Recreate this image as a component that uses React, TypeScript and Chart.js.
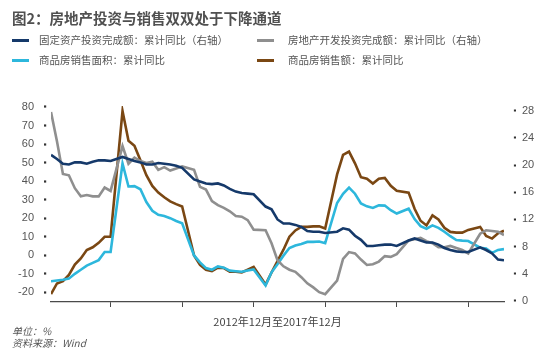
import React, { useEffect, useRef } from "react";
import { Chart, registerables } from "chart.js";

Chart.register(...registerables);

// Months (cumulative data, January merged into Feb)
const months = [
  "2012-02","2012-03","2012-04","2012-05","2012-06","2012-07","2012-08","2012-09","2012-10","2012-11","2012-12",
  "2013-02","2013-03","2013-04","2013-05","2013-06","2013-07","2013-08","2013-09","2013-10","2013-11","2013-12",
  "2014-02","2014-03","2014-04","2014-05","2014-06","2014-07","2014-08","2014-09","2014-10","2014-11","2014-12",
  "2015-02","2015-03","2015-04","2015-05","2015-06","2015-07","2015-08","2015-09","2015-10","2015-11","2015-12",
  "2016-02","2016-03","2016-04","2016-05","2016-06","2016-07","2016-08","2016-09","2016-10","2016-11","2016-12",
  "2017-02","2017-03","2017-04","2017-05","2017-06","2017-07","2017-08","2017-09","2017-10","2017-11","2017-12",
  "2018-02","2018-03","2018-04","2018-05","2018-06",
];

// 固定资产投资完成额：累计同比（右轴）
const fixedAssetInvestment = [
  21.5, 20.9, 20.2, 20.1, 20.4, 20.4, 20.2, 20.5, 20.7, 20.7, 20.6,
  21.2, 20.9, 20.6, 20.4, 20.1, 20.1, 20.3, 20.2, 20.1, 19.9, 19.6,
  17.9, 17.6, 17.3, 17.2, 17.3, 17.0, 16.5, 16.1, 15.9, 15.8, 15.7,
  13.9, 13.5, 12.0, 11.4, 11.4, 11.2, 10.9, 10.3, 10.2, 10.2, 10.0,
  10.2, 10.7, 10.5, 9.6, 9.0, 8.1, 8.1, 8.2, 8.3, 8.3, 8.1,
  8.9, 9.2, 8.9, 8.6, 8.6, 8.3, 7.8, 7.5, 7.3, 7.2, 7.2,
  7.9, 7.5, 7.0, 6.1, 6.0,
];

// 房地产开发投资完成额：累计同比（右轴）
const realEstateInvestment = [
  27.8, 23.5, 18.7, 18.5, 16.6, 15.4, 15.6, 15.4, 15.4, 16.7, 16.2,
  22.8, 20.2, 21.1, 20.6, 20.3, 20.5, 19.3, 19.7, 19.2, 19.5, 19.8,
  19.3, 16.8, 16.4, 14.7, 14.1, 13.7, 13.2, 12.5, 12.4, 11.9, 10.5,
  10.4, 8.5, 6.0, 5.1, 4.6, 4.3, 3.5, 2.6, 2.0, 1.3, 1.0,
  3.0, 6.2, 7.2, 7.0, 6.1, 5.3, 5.4, 5.8, 6.6, 6.5, 6.9,
  8.9, 9.1, 9.3, 8.8, 8.5, 7.9, 7.9, 8.1, 7.8, 7.5, 7.0,
  9.9, 10.4, 10.3, 10.2, 9.7,
];

// 商品房销售面积：累计同比
const salesArea = [
  -14.0, -13.6, -13.2, -12.6, -10.0, -7.8, -5.6, -4.1, -2.6, 1.8, 1.8,
  49.5, 37.1, 37.3, 35.6, 28.7, 24.0, 21.8, 21.2, 20.0, 18.5, 17.3,
  -0.1, -3.8, -6.9, -7.8, -6.0, -6.7, -8.3, -8.6, -8.9, -8.2, -7.6,
  -16.3, -9.2, -4.8, -0.2, 3.9, 5.3, 6.1, 7.2, 7.2, 7.4, 6.5,
  28.2, 33.1, 36.5, 33.2, 27.9, 26.4, 25.5, 26.9, 26.8, 24.3, 22.5,
  25.1, 19.5, 15.7, 14.3, 16.1, 14.8, 12.7, 10.3, 8.2, 7.9, 7.7,
  4.1, 3.6, 1.3, 2.9, 3.3,
];

// 商品房销售额：累计同比
const salesAmount = [
  -20.9, -15.2, -14.0, -10.6, -5.0, -1.7, 2.8, 4.3, 6.7, 10.0, 10.0,
  77.8, 61.8, 59.1, 51.3, 43.2, 37.4, 33.8, 31.3, 29.1, 27.6, 26.3,
  -0.1, -5.2, -7.8, -8.5, -6.7, -6.9, -8.9, -8.9, -9.3, -7.8, -6.3,
  -15.8, -9.3, -3.1, 3.0, 10.0, 13.4, 15.3, 15.3, 15.6, 15.6, 14.4,
  43.6, 54.1, 55.9, 49.6, 42.1, 41.3, 38.7, 41.3, 41.7, 37.5, 34.8,
  33.8, 25.1, 18.6, 16.1, 21.5, 19.3, 14.8, 12.6, 12.2, 12.2, 13.7,
  15.3, 10.4, 9.0, 11.8, 13.2,
];

const xTickMonths = ["2012-12", "2013-12", "2014-12", "2015-12", "2016-12", "2017-12"];
const leftTicks = [-20, -10, 0, 10, 20, 30, 40, 50, 60, 70, 80];
const rightTicks = [0, 4, 8, 12, 16, 20, 24, 28];

const seriesNames = [
  "固定资产投资完成额：累计同比（右轴）",
  "房地产开发投资完成额：累计同比（右轴）",
  "商品房销售面积：累计同比",
  "商品房销售额：累计同比",
];
const seriesColors = ["#15396a", "#8f8f8f", "#2db7dc", "#7a4713"];

const monthIndex = (m: string) => {
  const [y, mo] = m.split("-").map(Number);
  return (y - 2012) * 12 + (mo - 1);
};

const CJK = '"Noto Sans CJK SC", "Noto Sans", sans-serif';
const NUM = '"Liberation Sans", Arial, sans-serif';

export default function App() {
  const ref = useRef<HTMLCanvasElement | null>(null);

  useEffect(() => {
    if (!ref.current) return;
    const toPoints = (vals: number[]) => months.map((m, i) => ({ x: monthIndex(m), y: vals[i] }));
    const sets = [fixedAssetInvestment, realEstateInvestment, salesArea, salesAmount];
    const axes = ["yR", "yR", "yL", "yL"];
    const chart = new Chart(ref.current, {
      type: "line",
      data: {
        datasets: sets.map((vals, i) => ({
          label: seriesNames[i],
          data: toPoints(vals),
          borderColor: seriesColors[i],
          backgroundColor: seriesColors[i],
          borderWidth: 2.6,
          pointRadius: 0,
          tension: 0,
          yAxisID: axes[i],
        })),
      },
      options: {
        animation: false,
        responsive: false,
        maintainAspectRatio: false,
        layout: { padding: { top: 106, left: 0, right: 0, bottom: 26 } },
        plugins: {
          legend: { display: false },
          tooltip: { enabled: false },
        },
        scales: {
          x: {
            type: "linear",
            min: monthIndex(months[0]),
            max: monthIndex(months[months.length - 1]),
            afterBuildTicks: (s: any) => {
              s.ticks = xTickMonths.map((m) => ({ value: monthIndex(m) }));
            },
            afterFit: (s: any) => {
              s.height = 30;
            },
            ticks: { display: false },
            grid: {
              drawOnChartArea: false,
              drawTicks: true,
              tickLength: 5,
              color: "#4a4a4a",
              tickColor: "#4a4a4a",
              tickWidth: 1,
            },
            border: { display: true, color: "#4a4a4a", width: 1.2 },
            title: {
              display: true,
              text: "2012年12月至2017年12月",
              color: "#444",
              font: { family: CJK, size: 11 },
              padding: { top: 0, bottom: 3.4 },
            },
          },
          yL: {
            type: "linear",
            position: "left",
            min: -25.2,
            max: 80.5,
            afterBuildTicks: (s: any) => {
              s.ticks = leftTicks.map((v) => ({ value: v }));
            },
            afterFit: (s: any) => {
              s.width = 51;
            },
            border: { display: false },
            grid: {
              drawOnChartArea: false,
              drawTicks: true,
              tickLength: 7,
              tickWidth: 2.2,
              tickColor: "#333",
              tickBorderDash: [2.2, 100],
            },
            ticks: {
              padding: 10,
              color: "#555",
              font: { family: NUM, size: 11 },
              callback: (v: any) => String(v),
            },
          },
          yR: {
            type: "linear",
            position: "right",
            min: -0.15,
            max: 28.7,
            afterBuildTicks: (s: any) => {
              s.ticks = rightTicks.map((v) => ({ value: v }));
            },
            afterFit: (s: any) => {
              s.width = 46;
            },
            border: { display: false },
            grid: {
              drawOnChartArea: false,
              drawTicks: true,
              tickLength: 12,
              tickWidth: 2.2,
              tickColor: "#333",
              tickBorderDash: [0, 9.9, 2.2, 100],
            },
            ticks: {
              padding: 6,
              color: "#555",
              font: { family: NUM, size: 11 },
              callback: (v: any) => String(v),
            },
          },
        },
      },
    } as any);
    return () => chart.destroy();
  }, []);

  const legendText: React.CSSProperties = {
    position: "absolute",
    fontFamily: CJK,
    fontSize: 10.5,
    lineHeight: "16px",
    color: "#555",
    whiteSpace: "nowrap",
  };
  const legendItems = [
    { i: 0, lx: 12, tx: 39, cy: 40 },
    { i: 1, lx: 257, tx: 288, cy: 40 },
    { i: 2, lx: 12, tx: 39, cy: 60 },
    { i: 3, lx: 257, tx: 288, cy: 60 },
  ];

  return (
    <div style={{ position: "absolute", left: 0, top: 0, width: 550, height: 358, background: "#fff", overflow: "hidden" }}>
      <canvas ref={ref} width={550} height={358} style={{ position: "absolute", left: 0, top: 0, width: 550, height: 358 }} />
      <div
        style={{
          position: "absolute",
          left: 12,
          top: 8,
          fontFamily: CJK,
          fontWeight: 700,
          fontSize: 14.5,
          lineHeight: "20px",
          color: "#505050",
          whiteSpace: "nowrap",
        }}
      >
        图2：房地产投资与销售双双处于下降通道
      </div>
      {legendItems.map((it) => (
        <React.Fragment key={it.i}>
          <div
            style={{
              position: "absolute",
              left: it.lx,
              top: it.cy - 1.5,
              width: 17,
              height: 3,
              background: seriesColors[it.i],
            }}
          />
          <div style={{ ...legendText, left: it.tx, top: it.cy - 8 }}>{seriesNames[it.i]}</div>
        </React.Fragment>
      ))}
      <div
        style={{
          position: "absolute",
          left: 12,
          top: 325,
          fontFamily: CJK,
          fontSize: 10,
          lineHeight: "12px",
          color: "#555",
          fontStyle: "italic",
          whiteSpace: "nowrap",
        }}
      >
        单位：%
        <br />
        资料来源：Wind
      </div>
    </div>
  );
}
